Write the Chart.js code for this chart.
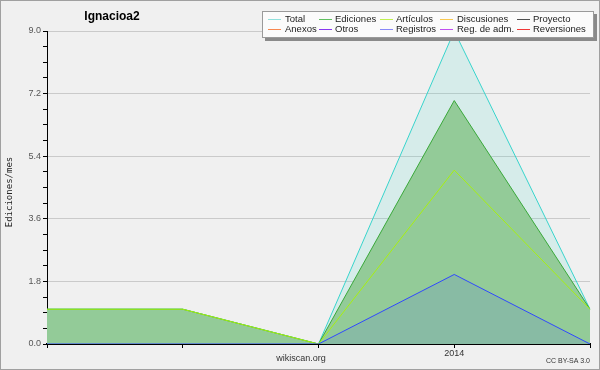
<!DOCTYPE html>
<html><head><meta charset="utf-8">
<script src="https://cdn.jsdelivr.net/npm/chart.js@4/dist/chart.umd.min.js"></script>
<style>html,body{margin:0;padding:0;background:#f0f0f0}#w{width:600px;height:370px;position:relative}</style>
</head><body><div id="w"><canvas id="c" width="600" height="370"></canvas></div>
<script>
// ---- data ----
const categories = ['', '', '', '2014', ''];
const seriesNames = ['Total','Ediciones','Artículos','Discusiones','Proyecto','Anexos','Otros','Registros','Reg. de adm.','Reversiones'];
const total       = [1, 1, 0, 9, 1];
const ediciones   = [1, 1, 0, 7, 1];
const articulos   = [1, 1, 0, 5, 1];
const discusiones = [0, 0, 0, 0, 0];
const proyecto    = [0, 0, 0, 0, 0];
const anexos      = [0, 0, 0, 0, 0];
const otros       = [0, 0, 0, 0, 0];
const registros   = [0, 0, 0, 2, 0];
const regAdm      = [0, 0, 0, 0, 0];
const reversiones = [0, 0, 0, 0, 0];
const yTickLabels = ['0.0', '1.8', '3.6', '5.4', '7.2', '9.0'];
const chartTitle = 'Ignacioa2';
const yTitle = 'Ediciones/mes';
const footerCenter = 'wikiscan.org';
const footerRight = 'CC BY-SA 3.0';

// ---- styles ----
const lineColors   = ['#38d4cc','#3aa83a','#a8f010','#f0c040','#606060','#f08040','#8040e0','#3048ff','#c040e0','#e04040'];
const legendColors = ['#90e0dc','#60c060','#c0f050','#f8c850','#505050','#f88850','#8838f0','#8888f8','#c050f0','#f03838'];
const fills = [
  'rgba(64,216,200,0.15)', 'rgb(147,203,152)', false, false, false, false, false, 'rgba(60,70,255,0.12)', false, false
];
const allData = [total, ediciones, articulos, discusiones, proyecto, anexos, otros, registros, regAdm, reversiones];
const orders = [4, 3, 2, 5, 5, 5, 5, 1, 5, 5];

const datasets = allData.map((d, i) => ({
  label: seriesNames[i],
  data: d,
  borderColor: lineColors[i],
  backgroundColor: fills[i] || 'rgba(0,0,0,0)',
  fill: fills[i] ? 'origin' : false,
  borderWidth: 1,
  pointRadius: 0,
  tension: 0,
  order: orders[i]
}));

const majorVals = yTickLabels.map(parseFloat);
const isMajor = v => majorVals.some(m => Math.abs(m - v) < 1e-6);

const decor = {
  id: 'decor',
  beforeDraw(chart) {
    const ctx = chart.ctx;
    ctx.save();
    ctx.fillStyle = '#f0f0f0';
    ctx.fillRect(0, 0, chart.width, chart.height);
    ctx.restore();
  },
  afterDraw(chart) {
    const ctx = chart.ctx;
    ctx.save();
    // title
    ctx.fillStyle = '#000';
    ctx.font = 'bold 12px "Liberation Sans", Arial, sans-serif';
    ctx.textAlign = 'center';
    ctx.textBaseline = 'middle';
    ctx.fillText(chartTitle, 112, 17);
    // y title
    ctx.save();
    ctx.translate(10, 192);
    ctx.rotate(-Math.PI / 2);
    ctx.font = '9px "DejaVu Sans Mono", monospace';
    ctx.fillStyle = '#222';
    ctx.fillText(yTitle, 0, 0);
    ctx.restore();
    // footers
    ctx.font = '9px "Liberation Sans", Arial, sans-serif';
    ctx.fillStyle = '#333';
    ctx.textAlign = 'center';
    ctx.fillText(footerCenter, 301, 359);
    ctx.font = '7px "Liberation Sans", Arial, sans-serif';
    ctx.textAlign = 'right';
    ctx.fillText(footerRight, 590, 361);
    // legend box
    const bx = 262, by = 11, bw = 332, bh = 27;
    ctx.fillStyle = '#8a8a8a';
    ctx.fillRect(bx + 3, by + 3, bw, bh);
    ctx.fillStyle = '#fbfbfb';
    ctx.fillRect(bx, by, bw, bh);
    ctx.strokeStyle = '#9a9a9a';
    ctx.lineWidth = 1;
    ctx.strokeRect(bx + 0.5, by + 0.5, bw - 1, bh - 1);
    const colLine = [268, 319, 380, 440, 517];
    const colText = [285, 335, 396, 457, 533];
    const rowY = [19, 29];
    ctx.font = '9.5px "Liberation Sans", Arial, sans-serif';
    ctx.textAlign = 'left';
    ctx.textBaseline = 'middle';
    chart.data.datasets.forEach((ds, i) => {
      const r = Math.floor(i / 5), c = i % 5;
      const y = rowY[r];
      ctx.strokeStyle = legendColors[i];
      ctx.beginPath();
      ctx.moveTo(colLine[c], y + 0.5);
      ctx.lineTo(colLine[c] + 13, y + 0.5);
      ctx.stroke();
      ctx.fillStyle = '#222';
      ctx.fillText(ds.label, colText[c], y);
    });
    // outer border
    ctx.strokeStyle = '#a0a0a0';
    ctx.strokeRect(0.5, 0.5, chart.width - 1, chart.height - 1);
    ctx.restore();
  }
};

new Chart(document.getElementById('c'), {
  type: 'line',
  data: { labels: categories, datasets },
  plugins: [decor],
  options: {
    responsive: false,
    animation: false,
    devicePixelRatio: 1,
    layout: { padding: { left: 0, right: 10, top: 31, bottom: 0 } },
    plugins: { legend: { display: false }, tooltip: { enabled: false }, title: { display: false } },
    scales: {
      x: {
        z: 1,
        offset: false,
        afterFit(s) { s.height = 26; },
        border: { display: true, color: '#000', width: 2 },
        grid: { display: true, drawOnChartArea: false, color: '#000', tickLength: 4 },
        ticks: { autoSkip: false, maxRotation: 0, padding: 0, color: '#333', font: { family: '"Liberation Sans", Arial, sans-serif', size: 9 } }
      },
      y: {
        min: 0, max: 9,
        afterFit(s) { s.width = 47; },
        border: { display: true, color: '#000', width: 1 },
        grid: {
          color: c => (isMajor(c.tick.value) && c.tick.value > 0) ? '#cacaca' : 'rgba(0,0,0,0)',
          tickColor: '#000',
          tickLength: 4
        },
        ticks: {
          stepSize: 0.45,
          autoSkip: false,
          padding: 2,
          color: '#555',
          font: { family: '"Liberation Sans", Arial, sans-serif', size: 9 },
          callback: v => { const k = majorVals.findIndex(m => Math.abs(m - v) < 1e-6); return k >= 0 ? yTickLabels[k] : ''; }
        }
      }
    }
  }
});
</script>
</body></html>
